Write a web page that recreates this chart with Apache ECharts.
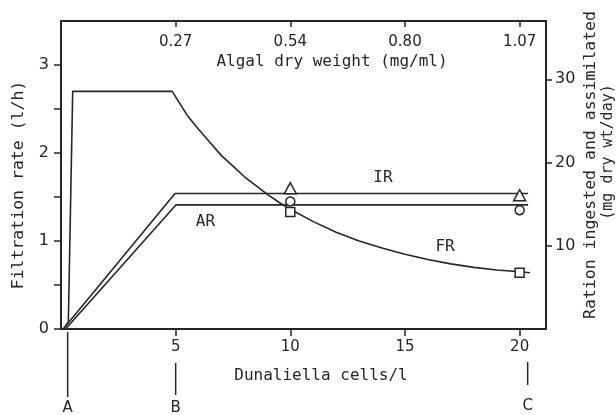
<!DOCTYPE html>
<html>
<head>
<meta charset="utf-8">
<script src="https://cdn.jsdelivr.net/npm/echarts@6/dist/echarts.min.js"></script>
<style>
html,body{margin:0;padding:0;background:#fff;}
#c{width:616px;height:415px;}
</style>
</head>
<body>
<div id="c"></div>
<script>
// ---- data ----
const bottomTicks = [5, 10, 15, 20];
const topTickLabels = ['0.27', '0.54', '0.80', '1.07'];
const leftLabels = [0, 1, 2, 3];
const leftTicks = [0, 0.5, 1, 1.5, 2, 2.5, 3];
const rightTicks = [10, 20, 30];

const frX = [0.1, 0.32, 0.51, 4.85, 5.5, 6, 6.5, 7, 7.5, 8, 8.5, 9, 9.5, 10, 11, 12, 13, 14, 15, 16, 17, 18, 19, 20, 20.45];
const frY = [0, 0.08, 2.70, 2.70, 2.43, 2.27, 2.12, 1.97, 1.85, 1.73, 1.63, 1.53, 1.44, 1.36, 1.22, 1.10, 1.00, 0.92, 0.85, 0.79, 0.74, 0.70, 0.67, 0.65, 0.64];

const irX = [0.1, 4.97, 20.37];
const irY = [0, 1.54, 1.54];
const arX = [0.2, 5.01, 20.37];
const arY = [0, 1.41, 1.41];

const measX = [10, 20];
const triY = [1.60, 1.52];
const circY = [1.45, 1.35];
const sqY = [1.33, 0.64];

const curveLabels = ['IR', 'AR', 'FR'];
const curveLabelX = [14.04, 6.3, 16.75];
const curveLabelY = [1.72, 1.22, 0.935];

const refNames = ['A', 'B', 'C'];
const refX = [0.29, 5.0, 20.35];

const pairs = (xs, ys) => xs.map((x, i) => [x, ys[i]]);

const INK = '#262626';
const MONO = '"DejaVu Sans Mono", monospace';
const SANS = '"DejaVu Sans", sans-serif';

const chart = echarts.init(document.getElementById('c'), null, {renderer: 'canvas'});

const refStyle = {A: [3, 68, 79], B: [34, 66, 79], C: [33, 56, 77]};

const option = {
  backgroundColor: '#ffffff',
  animation: false,
  grid: {left: 61, right: 70, top: 21, bottom: 86, containLabel: false},
  xAxis: [{
    type: 'value', position: 'bottom', min: 0, max: 21.15,
    axisLine: {show: true, onZero: false, lineStyle: {color: INK, width: 2}},
    axisTick: {show: true, customValues: bottomTicks, length: 7, lineStyle: {color: INK, width: 1.5}},
    axisLabel: {show: true, customValues: bottomTicks, margin: 11, fontSize: 15, color: INK, fontFamily: SANS},
    splitLine: {show: false}
  }, {
    type: 'value', position: 'top', min: 0, max: 21.15,
    axisLine: {show: true, onZero: false, lineStyle: {color: INK, width: 2}},
    axisTick: {show: true, inside: true, customValues: bottomTicks, length: 6, lineStyle: {color: INK, width: 1.5}},
    axisLabel: {show: true, inside: true, customValues: bottomTicks, margin: 14, fontSize: 15, color: INK, fontFamily: SANS,
      formatter: v => topTickLabels[bottomTicks.indexOf(Math.round(v))] || ''},
    splitLine: {show: false}
  }],
  yAxis: [{
    type: 'value', position: 'left', min: 0, max: 3.5, interval: 0.5,
    axisLine: {show: true, onZero: false, lineStyle: {color: INK, width: 2}},
    axisTick: {show: true, customValues: leftTicks, length: 7, lineStyle: {color: INK, width: 1.5}},
    axisLabel: {show: true, customValues: leftLabels, margin: 12, fontSize: 16, color: INK, fontFamily: SANS},
    splitLine: {show: false}
  }, {
    type: 'value', position: 'right', min: 0, max: 37,
    axisLine: {show: true, onZero: false, lineStyle: {color: INK, width: 2}},
    axisTick: {show: true, customValues: rightTicks, length: 6, lineStyle: {color: INK, width: 1.5}},
    axisLabel: {show: true, customValues: rightTicks, margin: 9, fontSize: 16, color: INK, fontFamily: SANS},
    splitLine: {show: false}
  }],
  graphic: [
    {type: 'text', x: 19, y: 185, rotation: Math.PI / 2,
      style: {text: 'Filtration rate (l/h)', fontSize: 16.5, fontFamily: MONO, fill: INK, align: 'center', verticalAlign: 'middle'}},
    {type: 'text', x: 591, y: 165, rotation: Math.PI / 2,
      style: {text: 'Ration ingested and assimilated', fontSize: 16.5, fontFamily: MONO, fill: INK, align: 'center', verticalAlign: 'middle'}},
    {type: 'text', x: 608, y: 152, rotation: Math.PI / 2,
      style: {text: '(mg dry wt/day)', fontSize: 15, fontFamily: MONO, fill: INK, align: 'center', verticalAlign: 'middle'}},
    {type: 'text', x: 332, y: 62,
      style: {text: 'Algal dry weight (mg/ml)', fontSize: 16, fontFamily: MONO, fill: INK, align: 'center', verticalAlign: 'middle'}},
    {type: 'text', x: 321, y: 376,
      style: {text: 'Dunaliella cells/l', fontSize: 16, fontFamily: MONO, fill: INK, align: 'center', verticalAlign: 'middle'}}
  ],
  series: [
    {type: 'line', name: 'FR', data: pairs(frX, frY), showSymbol: false, symbol: 'none',
      lineStyle: {color: INK, width: 1.6}, z: 3},
    {type: 'line', name: 'IR', data: pairs(irX, irY), showSymbol: false, symbol: 'none',
      lineStyle: {color: INK, width: 1.6}, z: 3},
    {type: 'line', name: 'AR', data: pairs(arX, arY), showSymbol: false, symbol: 'none',
      lineStyle: {color: INK, width: 1.6}, z: 3},
    {type: 'scatter', name: 'IR data', data: pairs(measX, triY), symbol: 'triangle', symbolSize: [12, 11],
      itemStyle: {color: '#fff', borderColor: INK, borderWidth: 1.5, opacity: 1}, z: 5},
    {type: 'scatter', name: 'AR data', data: pairs(measX, circY), symbol: 'circle', symbolSize: 9,
      itemStyle: {color: '#fff', borderColor: INK, borderWidth: 1.5, opacity: 1}, z: 5},
    {type: 'scatter', name: 'FR data', data: pairs(measX, sqY), symbol: 'rect', symbolSize: 9,
      itemStyle: {color: '#fff', borderColor: INK, borderWidth: 1.5, opacity: 1}, z: 5},
    {type: 'custom', name: 'curve labels', data: curveLabelX.map((x, i) => [x, curveLabelY[i]]),
      renderItem: (params, api) => {
        const p = api.coord([api.value(0), api.value(1)]);
        return {type: 'text', style: {text: curveLabels[params.dataIndex], x: p[0], y: p[1],
          align: 'center', verticalAlign: 'middle', fontSize: 16, fontFamily: MONO, fill: INK}};
      }, z: 6},
    {type: 'custom', name: 'refs', clip: false, data: refX.map(x => [x, 0]),
      renderItem: (params, api) => {
        const p = api.coord([api.value(0), 0]);
        const n = refNames[params.dataIndex];
        const s = refStyle[n];
        return {type: 'group', children: [
          {type: 'line', shape: {x1: p[0], y1: p[1] + s[0], x2: p[0], y2: p[1] + s[1]},
            style: {stroke: INK, lineWidth: 1.5}},
          {type: 'text', style: {text: n, x: p[0], y: p[1] + s[2], align: 'center', verticalAlign: 'middle',
            fontSize: 15, fontFamily: SANS, fill: INK}}
        ]};
      }, z: 6}
  ]
};
chart.setOption(option);
</script>
</body>
</html>
